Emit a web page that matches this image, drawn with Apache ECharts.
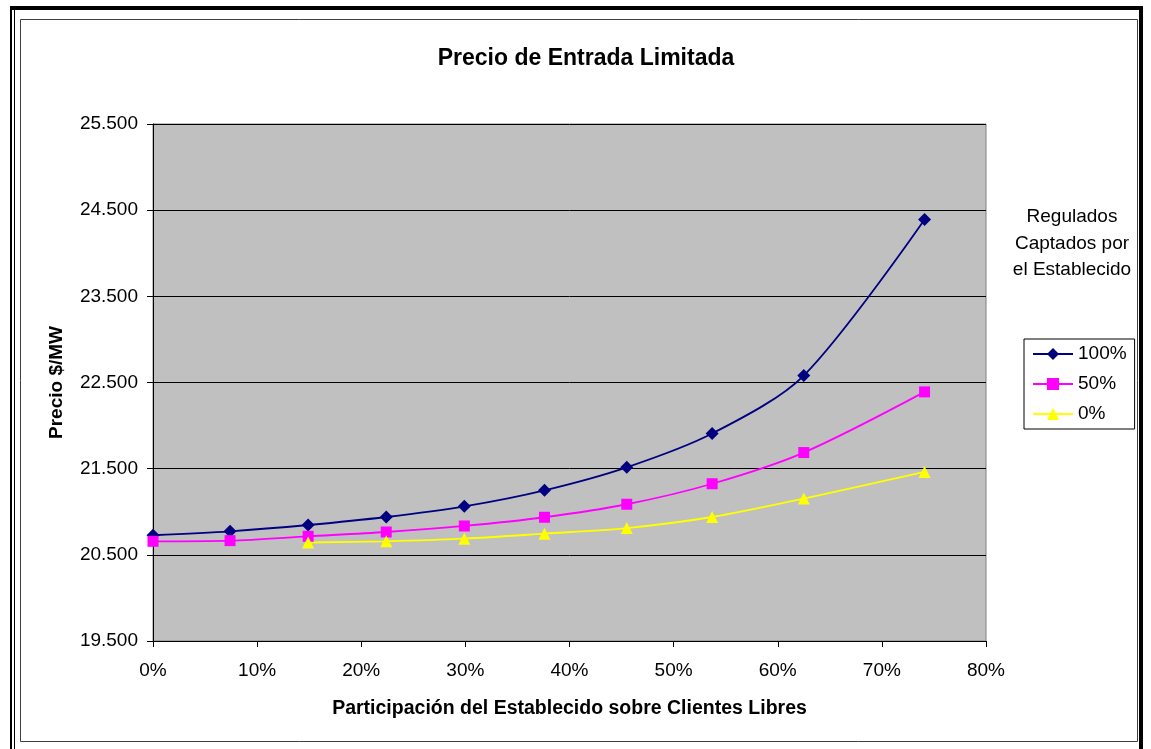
<!DOCTYPE html>
<html>
<head>
<meta charset="utf-8">
<script src="https://cdn.jsdelivr.net/npm/echarts@6/dist/echarts.min.js"></script>
<style>
  html, body { margin: 0; padding: 0; background: #fff; }
  #chart { width: 1151px; height: 749px; }
</style>
</head>
<body>
<div id="chart"></div>
<script>
// Participación del establecido (%) en cada punto de la curva
const participacion = [0, 7.4, 14.9, 22.4, 29.9, 37.6, 45.5, 53.7, 62.5, 74.1];

// Precio ($/MW) según los regulados captados por el establecido
const precio100 = [20727, 20773, 20846, 20939, 21063, 21249, 21516, 21908, 22581, 24392];
const precio50  = [20657, 20665, 20715, 20765, 20835, 20936, 21087, 21325, 21687, 22391];
const precio0   = [null, null, 20643, 20657, 20688, 20746, 20811, 20939, 21153, 21462];

const seriesNames = ['100%', '50%', '0%'];
const yTicks = { min: 19500, max: 25500, step: 1000 };
const xTicks = { min: 0, max: 80, step: 10 };

const FONT = '"Liberation Sans", Arial, sans-serif';

function pairs(values) {
  return participacion.map((p, i) => [p, values[i]]).filter(d => d[1] !== null);
}

function fmtMiles(v) {
  return String(v).replace(/\B(?=(\d{3})+(?!\d))/g, '.');
}

const chart = echarts.init(document.getElementById('chart'), null, { renderer: 'canvas' });

const option = {
  backgroundColor: '#ffffff',
  animation: false,
  textStyle: { fontFamily: FONT },
  title: {
    text: 'Precio de Entrada Limitada',
    left: 581, top: 42, textAlign: 'center',
    textStyle: { fontFamily: FONT, fontWeight: 'bold', fontSize: 23, color: '#000' }
  },
  grid: {
    left: 153, top: 124, right: 165, bottom: 108,
    show: true, backgroundColor: '#C0C0C0', borderColor: '#808080', borderWidth: 1
  },
  legend: {
    orient: 'vertical',
    left: 1024, top: 339,
    padding: [5, 8, 5, 8],
    backgroundColor: '#ffffff',
    borderColor: '#000000', borderWidth: 1,
    itemWidth: 40, itemHeight: 15, itemGap: 10,
    textStyle: { fontFamily: FONT, fontSize: 19, color: '#000', lineHeight: 20 },
    data: seriesNames
  },
  xAxis: {
    type: 'value',
    min: xTicks.min, max: xTicks.max, interval: xTicks.step,
    name: 'Participación del Establecido sobre Clientes Libres',
    nameLocation: 'middle', nameGap: 58,
    nameTextStyle: { fontFamily: FONT, fontWeight: 'bold', fontSize: 19.5, color: '#000' },
    axisLine: { show: true, onZero: false, lineStyle: { color: '#000', width: 1 } },
    axisTick: { show: true, inside: false, length: 6, lineStyle: { color: '#000' } },
    axisLabel: { fontFamily: FONT, fontSize: 19, color: '#000', margin: 20, formatter: '{value}%' },
    splitLine: { show: false }
  },
  yAxis: {
    type: 'value',
    min: yTicks.min, max: yTicks.max, interval: yTicks.step,
    name: 'Precio $/MW',
    nameLocation: 'middle', nameGap: 87, nameRotate: 90,
    nameTextStyle: { fontFamily: FONT, fontWeight: 'bold', fontSize: 19, color: '#000' },
    axisLine: { show: true, lineStyle: { color: '#000', width: 1 } },
    axisTick: { show: true, inside: false, length: 6, lineStyle: { color: '#000' } },
    axisLabel: { fontFamily: FONT, fontSize: 19, color: '#000', margin: 15, formatter: fmtMiles },
    splitLine: { show: true, lineStyle: { color: '#000', width: 1 } }
  },
  series: [
    {
      name: '100%', type: 'line', smooth: 0.3, data: pairs(precio100),
      symbol: 'diamond', symbolSize: 13,
      lineStyle: { color: '#000080', width: 1.8 },
      itemStyle: { color: '#000080' }
    },
    {
      name: '50%', type: 'line', smooth: 0.3, data: pairs(precio50),
      symbol: 'rect', symbolSize: 11,
      lineStyle: { color: '#FF00FF', width: 1.8 },
      itemStyle: { color: '#FF00FF' }
    },
    {
      name: '0%', type: 'line', smooth: 0.3, data: pairs(precio0),
      symbol: 'triangle', symbolSize: 12,
      lineStyle: { color: '#FFFF00', width: 1.8 },
      itemStyle: { color: '#FFFF00' }
    }
  ],
  graphic: [
    // marco exterior de la página
    { type: 'rect', shape: { x: 10, y: 6, width: 2, height: 743 }, style: { fill: '#000' }, silent: true },
    { type: 'rect', shape: { x: 14, y: 10, width: 1, height: 739 }, style: { fill: '#000' }, silent: true },
    { type: 'rect', shape: { x: 10, y: 6, width: 1133, height: 4 }, style: { fill: '#000' }, silent: true },
    { type: 'rect', shape: { x: 1139, y: 6, width: 4, height: 743 }, style: { fill: '#000' }, silent: true },
    // borde del área del gráfico
    { type: 'rect', shape: { x: 20.5, y: 19.5, width: 1117, height: 722 },
      style: { fill: 'none', stroke: '#404040', lineWidth: 1 }, silent: true },
    // título de la leyenda
    { type: 'text', x: 1072, y: 204,
      style: { text: 'Regulados\nCaptados por\nel Establecido', fontFamily: FONT, fontSize: 19,
               lineHeight: 26.5, fill: '#000', align: 'center', verticalAlign: 'top' }, silent: true }
  ]
};

chart.setOption(option);
</script>
</body>
</html>
